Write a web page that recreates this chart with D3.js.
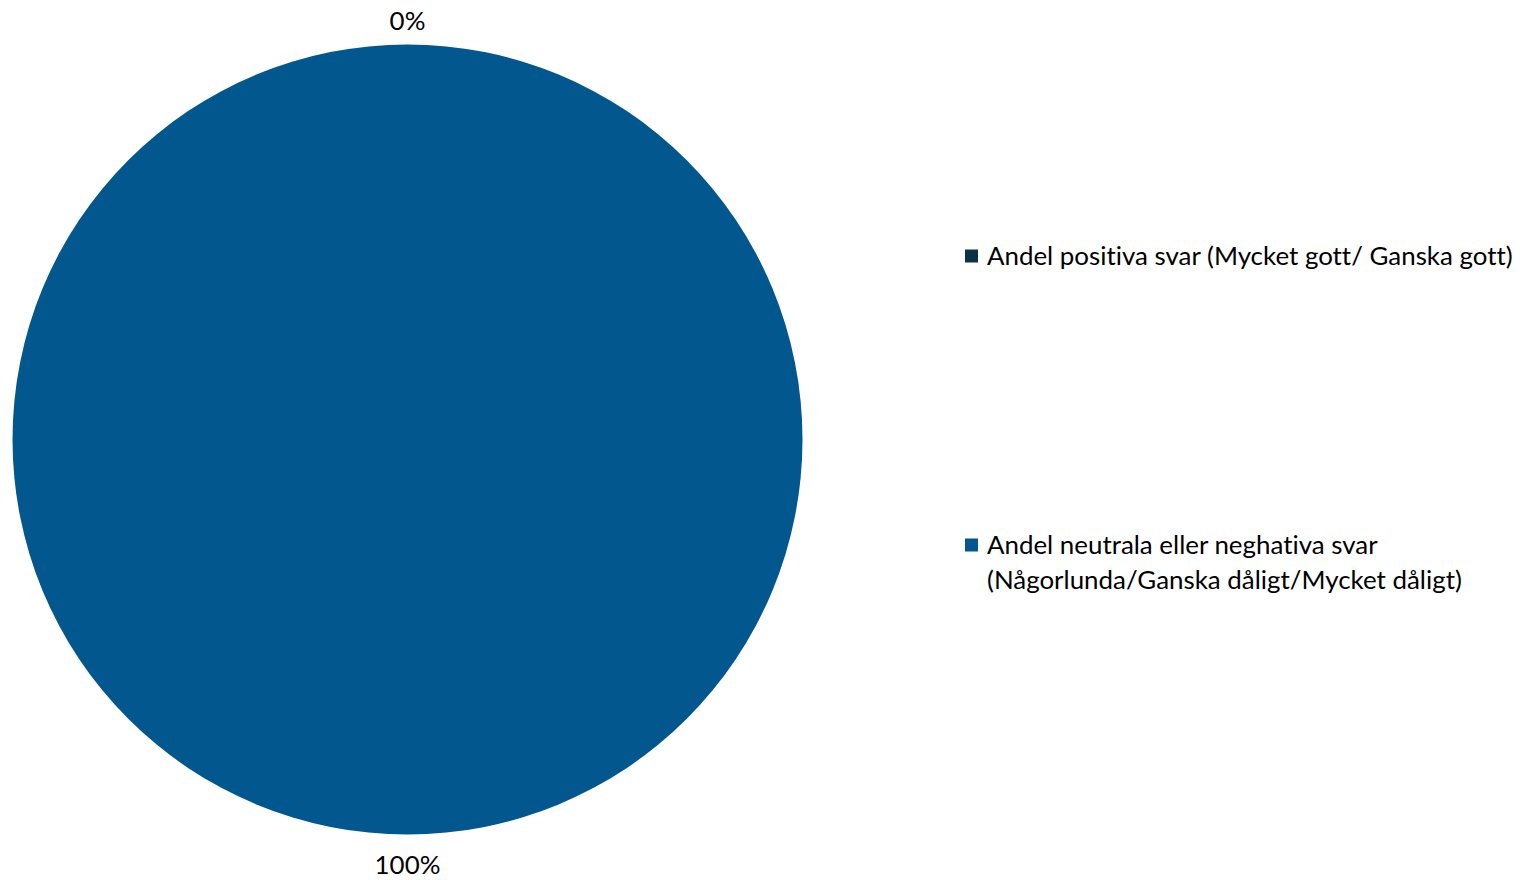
<!DOCTYPE html>
<html>
<head>
<meta charset="utf-8">
<script src="https://cdn.jsdelivr.net/npm/d3@7"></script>
<style>
body{margin:0;background:#fff;}
text{font-family:Lato,"Open Sans",sans-serif;fill:#000;font-variant-ligatures:none;}
</style>
</head>
<body>
<script>
var w=1520, h=880;
var categories = ["Andel positiva svar (Mycket gott/ Ganska gott)",
                  "Andel neutrala eller neghativa svar (Någorlunda/Ganska dåligt/Mycket dåligt)"];
var legendLines = [["Andel positiva svar (Mycket gott/ Ganska gott)"],
                   ["Andel neutrala eller neghativa svar", "(Någorlunda/Ganska dåligt/Mycket dåligt)"]];
var values = [0, 100];
var colors = ["#0d3049", "#02578f"];

var cx=407.5, cy=439.5, r=395;
var fs = 25.9;

var svg = d3.select("body").append("svg")
	.attr("width",w).attr("height",h);

var data = categories.map(function(c,i){ return {name:c, value:values[i], color:colors[i]}; });
var pie = d3.pie().sort(null).value(function(d){return d.value;});
var arcs = pie(data);
var arc = d3.arc().innerRadius(0).outerRadius(r);
var labelArc = d3.arc().innerRadius(r+27).outerRadius(r+27);

var g = svg.append("g").attr("transform","translate("+cx+","+cy+")");
g.selectAll("path")
	.data(arcs)
	.enter()
	.append("path")
		.attr("d", arc)
		.attr("fill", function(d){return d.data.color;});

g.selectAll("text.lbl")
	.data(arcs)
	.enter()
	.append("text")
		.attr("class","lbl")
		.attr("transform", function(d){ var c=labelArc.centroid(d); return "translate("+c[0]+","+(c[1]+3.5)+")"; })
		.attr("text-anchor","middle")
		.attr("dy","0.35em")
		.style("font-size",fs+"px")
		.text(function(d){ return Math.round(d.data.value/d3.sum(values)*100)+"%"; });

// legend
var legY = [256, 545];
var leg = svg.selectAll("g.leg")
	.data(data)
	.enter()
	.append("g")
		.attr("class","leg")
		.attr("transform", function(d,i){ return "translate(965,"+legY[i]+")"; });
leg.append("rect")
	.attr("x",0).attr("y",-6.5)
	.attr("width",13).attr("height",13)
	.attr("fill", function(d){return d.color;});
leg.append("text")
	.attr("x",22)
	.style("font-size",fs+"px")
	.selectAll("tspan")
	.data(function(d,i){ return legendLines[i]; })
	.enter()
	.append("tspan")
		.attr("x",22)
		.attr("y", function(d,i){ return i*35; })
		.attr("dy","0.35em")
		.text(function(d){return d;});
</script>
</body>
</html>
